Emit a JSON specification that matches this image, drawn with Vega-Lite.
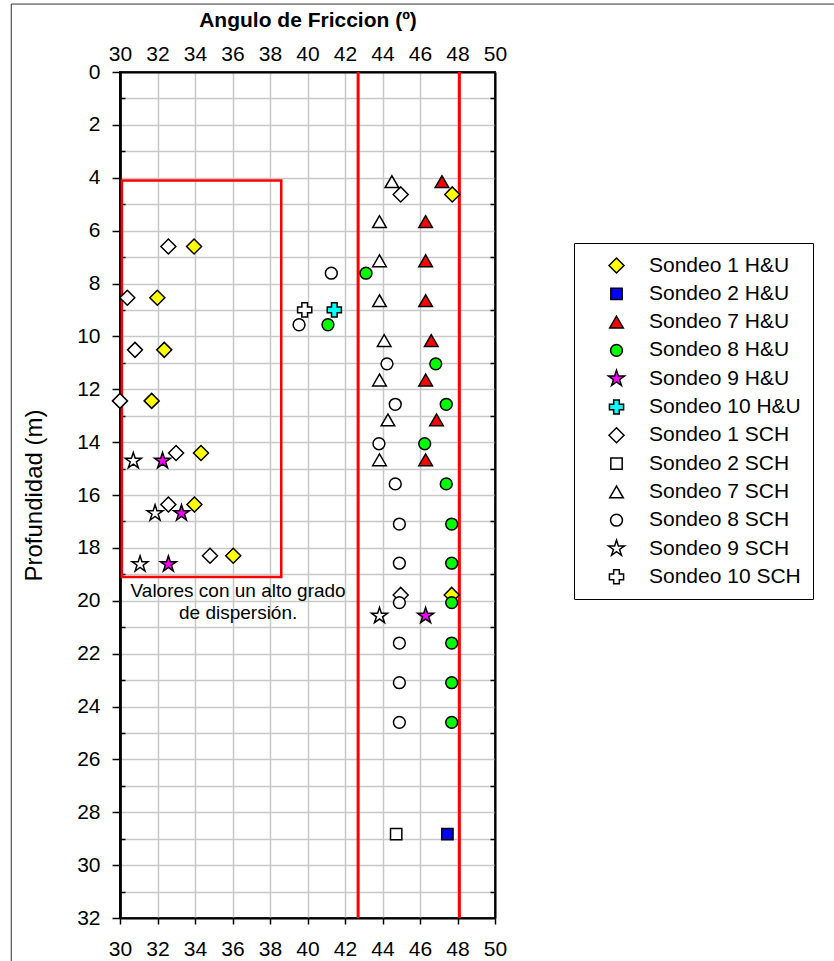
{
  "$schema": "https://vega.github.io/schema/vega-lite/v6.json",
  "width": 375,
  "height": 846,
  "autosize": "none",
  "padding": {"left": 120, "top": 72, "right": 339, "bottom": 43},
  "background": "white",
  "config": {
    "font": "Liberation Sans",
    "view": {"stroke": "black", "strokeWidth": 2},
    "axis": {
      "domainColor": "black", "domainWidth": 2,
      "tickColor": "black", "tickWidth": 1.5,
      "labelFontSize": 21, "labelColor": "black", "labelFont": "Liberation Sans",
      "labelFlush": false, "labelOverlap": false,
      "gridColor": "#c8c8c8", "gridWidth": 1.5, "gridOpacity": 1,
      "titleColor": "black", "titleFont": "Liberation Sans"
    }
  },
  "datasets": {
    "puntos": [
      {"s": "Sondeo 1 H&U", "x": 47.72, "y": 4.63},
      {"s": "Sondeo 1 H&U", "x": 33.95, "y": 6.6},
      {"s": "Sondeo 1 H&U", "x": 31.99, "y": 8.54},
      {"s": "Sondeo 1 H&U", "x": 32.36, "y": 10.51},
      {"s": "Sondeo 1 H&U", "x": 31.69, "y": 12.44},
      {"s": "Sondeo 1 H&U", "x": 34.32, "y": 14.41},
      {"s": "Sondeo 1 H&U", "x": 33.97, "y": 16.36},
      {"s": "Sondeo 1 H&U", "x": 36.04, "y": 18.3},
      {"s": "Sondeo 1 H&U", "x": 47.69, "y": 19.78},
      {"s": "Sondeo 2 H&U", "x": 47.46, "y": 28.83},
      {"s": "Sondeo 7 H&U", "x": 47.17, "y": 4.15},
      {"s": "Sondeo 7 H&U", "x": 46.3, "y": 5.66},
      {"s": "Sondeo 7 H&U", "x": 46.3, "y": 7.14},
      {"s": "Sondeo 7 H&U", "x": 46.3, "y": 8.65},
      {"s": "Sondeo 7 H&U", "x": 46.6, "y": 10.16},
      {"s": "Sondeo 7 H&U", "x": 46.3, "y": 11.65},
      {"s": "Sondeo 7 H&U", "x": 46.88, "y": 13.16},
      {"s": "Sondeo 7 H&U", "x": 46.3, "y": 14.67},
      {"s": "Sondeo 8 H&U", "x": 43.12, "y": 7.61},
      {"s": "Sondeo 8 H&U", "x": 41.09, "y": 9.56},
      {"s": "Sondeo 8 H&U", "x": 46.84, "y": 11.04},
      {"s": "Sondeo 8 H&U", "x": 47.4, "y": 12.57},
      {"s": "Sondeo 8 H&U", "x": 46.25, "y": 14.06},
      {"s": "Sondeo 8 H&U", "x": 47.4, "y": 15.58},
      {"s": "Sondeo 8 H&U", "x": 47.69, "y": 17.1},
      {"s": "Sondeo 8 H&U", "x": 47.69, "y": 18.58},
      {"s": "Sondeo 8 H&U", "x": 47.69, "y": 20.07},
      {"s": "Sondeo 8 H&U", "x": 47.69, "y": 21.6},
      {"s": "Sondeo 8 H&U", "x": 47.69, "y": 23.1},
      {"s": "Sondeo 8 H&U", "x": 47.69, "y": 24.6},
      {"s": "Sondeo 9 H&U", "x": 32.27, "y": 14.71},
      {"s": "Sondeo 9 H&U", "x": 33.28, "y": 16.69},
      {"s": "Sondeo 9 H&U", "x": 32.58, "y": 18.62},
      {"s": "Sondeo 9 H&U", "x": 46.3, "y": 20.57},
      {"s": "Sondeo 10 H&U", "x": 41.43, "y": 9.0},
      {"s": "Sondeo 1 SCH", "x": 44.97, "y": 4.63},
      {"s": "Sondeo 1 SCH", "x": 32.58, "y": 6.6},
      {"s": "Sondeo 1 SCH", "x": 30.39, "y": 8.54},
      {"s": "Sondeo 1 SCH", "x": 30.8, "y": 10.51},
      {"s": "Sondeo 1 SCH", "x": 30.0, "y": 12.44},
      {"s": "Sondeo 1 SCH", "x": 32.99, "y": 14.41},
      {"s": "Sondeo 1 SCH", "x": 32.58, "y": 16.36},
      {"s": "Sondeo 1 SCH", "x": 34.8, "y": 18.3},
      {"s": "Sondeo 1 SCH", "x": 44.97, "y": 19.78},
      {"s": "Sondeo 2 SCH", "x": 44.73, "y": 28.83},
      {"s": "Sondeo 7 SCH", "x": 44.5, "y": 4.15},
      {"s": "Sondeo 7 SCH", "x": 43.84, "y": 5.66},
      {"s": "Sondeo 7 SCH", "x": 43.84, "y": 7.14},
      {"s": "Sondeo 7 SCH", "x": 43.84, "y": 8.65},
      {"s": "Sondeo 7 SCH", "x": 44.09, "y": 10.16},
      {"s": "Sondeo 7 SCH", "x": 43.84, "y": 11.65},
      {"s": "Sondeo 7 SCH", "x": 44.29, "y": 13.16},
      {"s": "Sondeo 7 SCH", "x": 43.84, "y": 14.67},
      {"s": "Sondeo 8 SCH", "x": 41.27, "y": 7.61},
      {"s": "Sondeo 8 SCH", "x": 39.55, "y": 9.56},
      {"s": "Sondeo 8 SCH", "x": 44.24, "y": 11.04},
      {"s": "Sondeo 8 SCH", "x": 44.68, "y": 12.57},
      {"s": "Sondeo 8 SCH", "x": 43.81, "y": 14.06},
      {"s": "Sondeo 8 SCH", "x": 44.68, "y": 15.58},
      {"s": "Sondeo 8 SCH", "x": 44.9, "y": 17.1},
      {"s": "Sondeo 8 SCH", "x": 44.9, "y": 18.58},
      {"s": "Sondeo 8 SCH", "x": 44.9, "y": 20.07},
      {"s": "Sondeo 8 SCH", "x": 44.9, "y": 21.6},
      {"s": "Sondeo 8 SCH", "x": 44.9, "y": 23.1},
      {"s": "Sondeo 8 SCH", "x": 44.9, "y": 24.6},
      {"s": "Sondeo 9 SCH", "x": 30.71, "y": 14.71},
      {"s": "Sondeo 9 SCH", "x": 31.87, "y": 16.69},
      {"s": "Sondeo 9 SCH", "x": 31.07, "y": 18.62},
      {"s": "Sondeo 9 SCH", "x": 43.84, "y": 20.57},
      {"s": "Sondeo 10 SCH", "x": 39.85, "y": 9.0}
    ],
    "zona": [{"x1": 30.1, "x2": 38.6, "y1": 4.1, "y2": 19.1}],
    "limites": [{"x": 42.7}, {"x": 48.1}],
    "nota": [{"x": 36.3, "y": 19.3, "t": "Valores con un alto grado\nde dispersión."}],
    "marco": [{"x1": 24.2, "x2": 70, "y1": -2.57, "y2": 35}]
  },
  "resolve": {
    "scale": {"x": "shared", "y": "shared"},
    "axis": {"x": "independent", "y": "independent"}
  },
  "layer": [
    {
      "data": {"name": "zona"},
      "mark": {"type": "rect", "fill": null, "fillOpacity": 0, "stroke": "#ff0000", "strokeWidth": 2.5},
      "encoding": {
        "x": {"field": "x1", "type": "quantitative",
              "scale": {"domain": [30, 50], "nice": false, "zero": false},
              "axis": {"orient": "bottom", "values": [30,32,34,36,38,40,42,44,46,48,50], "grid": true,
                       "tickSize": 6, "labelPadding": 14, "title": null}},
        "x2": {"field": "x2"},
        "y": {"field": "y1", "type": "quantitative",
              "scale": {"domain": [0, 32], "nice": false, "zero": false, "reverse": true},
              "axis": {"orient": "left", "values": [0,1,2,3,4,5,6,7,8,9,10,11,12,13,14,15,16,17,18,19,20,21,22,23,24,25,26,27,28,29,30,31,32],
                       "grid": true, "ticks": false, "labels": false, "title": null}},
        "y2": {"field": "y2"}
      }
    },
    {
      "data": {"name": "marco"},
      "mark": {"type": "rect", "fill": null, "fillOpacity": 0, "stroke": "#333333", "strokeWidth": 1, "clip": false},
      "encoding": {
        "x": {"field": "x1", "type": "quantitative", "axis": null},
        "x2": {"field": "x2"},
        "y": {"field": "y1", "type": "quantitative", "axis": null},
        "y2": {"field": "y2"}
      }
    },
    {
      "data": {"name": "limites"},
      "mark": {"type": "rule", "color": "#ff0000", "strokeWidth": 3},
      "encoding": {
        "x": {"field": "x", "type": "quantitative",
              "axis": {"orient": "top", "values": [30,32,34,36,38,40,42,44,46,48,50], "grid": false,
                       "ticks": false, "labelPadding": 8, "domain": true,
                       "title": "Angulo de Friccion (º)", "titleFontSize": 21, "titleFontWeight": "bold", "titlePadding": 13}},
        "y": {"datum": 0, "type": "quantitative",
              "axis": {"orient": "left", "values": [0,2,4,6,8,10,12,14,16,18,20,22,24,26,28,30,32],
                       "grid": false, "tickSize": 8, "labelPadding": 12,
                       "title": "Profundidad (m)", "titleFontSize": 24, "titleFontWeight": "normal", "titlePadding": 30}},
        "y2": {"datum": 32}
      }
    },
    {
      "data": {"name": "puntos"},
      "mark": {"type": "point", "filled": true, "stroke": "black", "strokeWidth": 1.5, "opacity": 1, "fillOpacity": 1},
      "encoding": {
        "x": {"field": "x", "type": "quantitative", "axis": null},
        "y": {"field": "y", "type": "quantitative",
              "axis": {"orient": "left", "values": [1,3,5,7,9,11,13,15,17,19,21,23,25,27,29,31],
                       "grid": false, "labels": false, "tickSize": -5, "title": null}},
        "color": {"field": "s", "type": "nominal",
          "scale": {"domain": ["Sondeo 1 H&U","Sondeo 2 H&U","Sondeo 7 H&U","Sondeo 8 H&U","Sondeo 9 H&U","Sondeo 10 H&U","Sondeo 1 SCH","Sondeo 2 SCH","Sondeo 7 SCH","Sondeo 8 SCH","Sondeo 9 SCH","Sondeo 10 SCH"],
                    "range": ["#ffff00","#0000ff","#ff0000","#00ff00","#ff00ff","#00ffff","#ffffff","#ffffff","#ffffff","#ffffff","#ffffff","#ffffff"]},
          "legend": {"orient": "none", "legendX": 454, "legendY": 171, "title": null,
                     "padding": 12, "strokeColor": "black", "fillColor": "white",
                     "labelFontSize": 21, "labelColor": "black", "labelFont": "Liberation Sans",
                     "symbolOffset": 20, "labelOffset": 22, "rowPadding": 6.3,
                     "symbolStrokeWidth": 1.5, "symbolStrokeColor": "black", "symbolOpacity": 1}},
        "shape": {"field": "s", "type": "nominal",
          "scale": {"domain": ["Sondeo 1 H&U","Sondeo 2 H&U","Sondeo 7 H&U","Sondeo 8 H&U","Sondeo 9 H&U","Sondeo 10 H&U","Sondeo 1 SCH","Sondeo 2 SCH","Sondeo 7 SCH","Sondeo 8 SCH","Sondeo 9 SCH","Sondeo 10 SCH"],
                    "range": ["diamond","square","triangle-up","circle","M0,-1L0.2245,-0.309L0.951,-0.309L0.363,0.118L0.588,0.809L0,0.382L-0.588,0.809L-0.363,0.118L-0.951,-0.309L-0.2245,-0.309Z","cross",
                              "diamond","square","triangle-up","circle","M0,-1L0.2245,-0.309L0.951,-0.309L0.363,0.118L0.588,0.809L0,0.382L-0.588,0.809L-0.363,0.118L-0.951,-0.309L-0.2245,-0.309Z","cross"]}},
        "size": {"field": "s", "type": "nominal",
          "scale": {"type": "ordinal",
                    "domain": ["Sondeo 1 H&U","Sondeo 2 H&U","Sondeo 7 H&U","Sondeo 8 H&U","Sondeo 9 H&U","Sondeo 10 H&U","Sondeo 1 SCH","Sondeo 2 SCH","Sondeo 7 SCH","Sondeo 8 SCH","Sondeo 9 SCH","Sondeo 10 SCH"],
                    "range": [225,128,185,140,285,200,225,128,185,140,285,200]}}
      }
    },
    {
      "data": {"name": "nota"},
      "mark": {"type": "text", "lineBreak": "\n", "align": "center", "baseline": "top", "fontSize": 19, "lineHeight": 22, "color": "black", "font": "Liberation Sans"},
      "encoding": {
        "x": {"field": "x", "type": "quantitative", "axis": null},
        "y": {"field": "y", "type": "quantitative",
              "axis": {"orient": "right", "values": [1,3,5,7,9,11,13,15,17,19,21,23,25,27,29,31],
                       "grid": false, "labels": false, "tickSize": -5, "title": null}},
        "text": {"field": "t", "type": "nominal"}
      }
    }
  ]
}
